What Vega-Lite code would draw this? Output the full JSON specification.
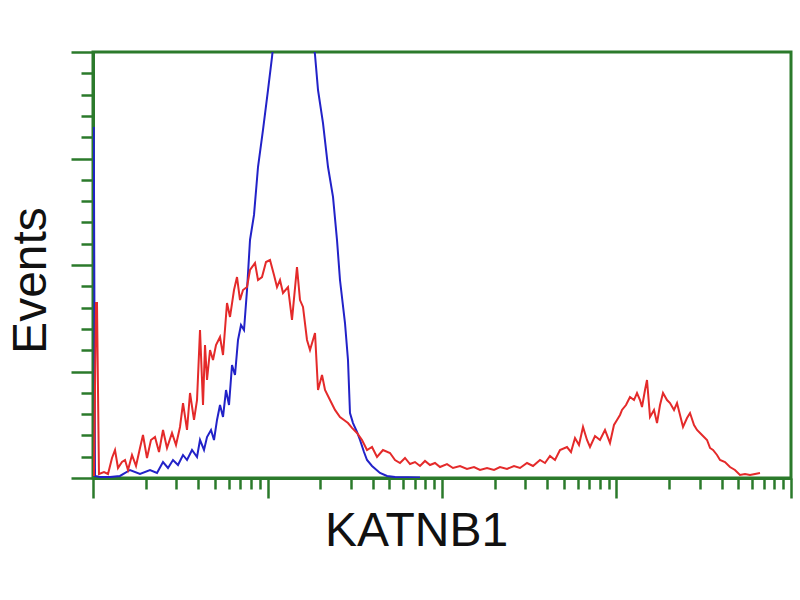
{
  "$schema": "https://vega.github.io/schema/vega-lite/v6.json",
  "width": 698,
  "height": 426,
  "autosize": {"type": "none"},
  "padding": {"left": 93, "top": 52, "right": 9, "bottom": 122},
  "background": "white",
  "config": {
    "view": {"stroke": "#2b7a2b", "strokeWidth": 3},
    "axis": {"grid": false, "labels": false}
  },
  "datasets": {
    "blue": [
      {"intensity": 1, "events": 328.7},
      {"intensity": 1.0106, "events": 328.7},
      {"intensity": 1.0267, "events": 1.9},
      {"intensity": 1.0967, "events": 0.9},
      {"intensity": 1.2516, "events": 0.9},
      {"intensity": 1.4279, "events": 1.9},
      {"intensity": 1.6299, "events": 7.5},
      {"intensity": 1.859, "events": 3.8},
      {"intensity": 2.1213, "events": 7.5},
      {"intensity": 2.3268, "events": 4.7},
      {"intensity": 2.5185, "events": 15.0},
      {"intensity": 2.6903, "events": 9.4},
      {"intensity": 2.8735, "events": 16.9},
      {"intensity": 3.0698, "events": 12.2},
      {"intensity": 3.2796, "events": 21.6},
      {"intensity": 3.4574, "events": 16.9},
      {"intensity": 3.6932, "events": 26.3},
      {"intensity": 3.945, "events": 19.7},
      {"intensity": 4.1044, "events": 35.7},
      {"intensity": 4.3268, "events": 26.3},
      {"intensity": 4.5018, "events": 38.5},
      {"intensity": 4.7457, "events": 45.1},
      {"intensity": 4.9364, "events": 35.7},
      {"intensity": 5.1367, "events": 54.5},
      {"intensity": 5.3441, "events": 68.5},
      {"intensity": 5.5598, "events": 57.3},
      {"intensity": 5.7842, "events": 82.6},
      {"intensity": 6.0176, "events": 68.5},
      {"intensity": 6.2605, "events": 106.1},
      {"intensity": 6.5128, "events": 96.7},
      {"intensity": 6.7767, "events": 129.6},
      {"intensity": 7.05, "events": 143.7},
      {"intensity": 7.3348, "events": 139.0},
      {"intensity": 7.6311, "events": 176.5},
      {"intensity": 7.9392, "events": 223.5},
      {"intensity": 8.3693, "events": 247.0},
      {"intensity": 8.8226, "events": 292.0},
      {"intensity": 9.4232, "events": 326.8},
      {"intensity": 10.066, "events": 364.3},
      {"intensity": 10.612, "events": 395.3},
      {"intensity": 11.187, "events": 430},
      {"intensity": 14.0, "events": 542.7},
      {"intensity": 17.756, "events": 430},
      {"intensity": 18.72, "events": 397.2},
      {"intensity": 19.476, "events": 364.3},
      {"intensity": 20.8, "events": 333.3},
      {"intensity": 22.224, "events": 292.0},
      {"intensity": 23.735, "events": 263.9},
      {"intensity": 25.02, "events": 223.5},
      {"intensity": 26.026, "events": 185.9},
      {"intensity": 27.8, "events": 145.5},
      {"intensity": 28.924, "events": 110.8},
      {"intensity": 29.697, "events": 61.0},
      {"intensity": 30.904, "events": 51.6},
      {"intensity": 32.578, "events": 43.2},
      {"intensity": 33.895, "events": 35.7},
      {"intensity": 35.725, "events": 24.4},
      {"intensity": 37.176, "events": 16.9},
      {"intensity": 39.711, "events": 11.3},
      {"intensity": 44.12, "events": 4.7},
      {"intensity": 48.4, "events": 1.9},
      {"intensity": 53.788, "events": 0.9},
      {"intensity": 74.811, "events": 0.5}
    ],
    "red": [
      {"intensity": 1.013, "events": 1.9},
      {"intensity": 1.04, "events": 164.3},
      {"intensity": 1.054, "events": 164.3},
      {"intensity": 1.082, "events": 3.8},
      {"intensity": 1.156, "events": 5.6},
      {"intensity": 1.219, "events": 3.8},
      {"intensity": 1.285, "events": 18.8},
      {"intensity": 1.337, "events": 26.3},
      {"intensity": 1.391, "events": 9.4},
      {"intensity": 1.466, "events": 15.0},
      {"intensity": 1.526, "events": 16.9},
      {"intensity": 1.587, "events": 7.5},
      {"intensity": 1.673, "events": 21.6},
      {"intensity": 1.764, "events": 11.3},
      {"intensity": 1.859, "events": 28.2},
      {"intensity": 1.934, "events": 40.4},
      {"intensity": 2.039, "events": 18.8},
      {"intensity": 2.149, "events": 35.7},
      {"intensity": 2.266, "events": 38.5},
      {"intensity": 2.389, "events": 24.4},
      {"intensity": 2.519, "events": 45.1},
      {"intensity": 2.655, "events": 28.2},
      {"intensity": 2.836, "events": 42.3},
      {"intensity": 2.99, "events": 31.0},
      {"intensity": 3.152, "events": 47.9},
      {"intensity": 3.28, "events": 70.4},
      {"intensity": 3.457, "events": 45.1},
      {"intensity": 3.597, "events": 79.8},
      {"intensity": 3.792, "events": 54.5},
      {"intensity": 3.945, "events": 73.2},
      {"intensity": 4.104, "events": 139.0},
      {"intensity": 4.27, "events": 68.5},
      {"intensity": 4.384, "events": 124.9},
      {"intensity": 4.502, "events": 92.0},
      {"intensity": 4.684, "events": 120.2},
      {"intensity": 4.873, "events": 110.8},
      {"intensity": 5.069, "events": 124.9},
      {"intensity": 5.344, "events": 132.4},
      {"intensity": 5.56, "events": 115.5},
      {"intensity": 5.861, "events": 164.3},
      {"intensity": 6.098, "events": 151.2},
      {"intensity": 6.428, "events": 176.5},
      {"intensity": 6.688, "events": 188.7},
      {"intensity": 6.958, "events": 167.1},
      {"intensity": 7.239, "events": 176.5},
      {"intensity": 7.631, "events": 179.3},
      {"intensity": 7.939, "events": 195.3},
      {"intensity": 8.48, "events": 201.9},
      {"intensity": 8.823, "events": 185.9},
      {"intensity": 9.3, "events": 188.7},
      {"intensity": 9.804, "events": 202.8},
      {"intensity": 10.335, "events": 204.7},
      {"intensity": 10.896, "events": 190.6},
      {"intensity": 11.336, "events": 179.3},
      {"intensity": 11.793, "events": 185.9},
      {"intensity": 12.27, "events": 173.7},
      {"intensity": 13.106, "events": 179.3},
      {"intensity": 13.816, "events": 148.4},
      {"intensity": 14.757, "events": 198.1},
      {"intensity": 15.355, "events": 167.1},
      {"intensity": 15.976, "events": 160.6},
      {"intensity": 16.842, "events": 129.6},
      {"intensity": 17.523, "events": 120.2},
      {"intensity": 18.72, "events": 136.2},
      {"intensity": 19.476, "events": 82.6},
      {"intensity": 20.531, "events": 96.7},
      {"intensity": 21.361, "events": 82.6},
      {"intensity": 22.815, "events": 73.2},
      {"intensity": 24.368, "events": 63.9},
      {"intensity": 26.026, "events": 57.3},
      {"intensity": 27.437, "events": 54.5},
      {"intensity": 28.924, "events": 51.6},
      {"intensity": 30.492, "events": 47.0},
      {"intensity": 32.578, "events": 42.3},
      {"intensity": 34.8, "events": 35.7},
      {"intensity": 37.176, "events": 26.3},
      {"intensity": 39.711, "events": 29.1},
      {"intensity": 42.423, "events": 19.7},
      {"intensity": 45.903, "events": 26.3},
      {"intensity": 50.356, "events": 23.5},
      {"intensity": 53.788, "events": 16.9},
      {"intensity": 57.454, "events": 14.1},
      {"intensity": 61.376, "events": 18.8},
      {"intensity": 65.561, "events": 13.1},
      {"intensity": 70.03, "events": 15.0},
      {"intensity": 74.811, "events": 11.3},
      {"intensity": 79.91, "events": 16.0},
      {"intensity": 85.358, "events": 12.2},
      {"intensity": 91.186, "events": 14.1},
      {"intensity": 97.402, "events": 10.3},
      {"intensity": 106.82, "events": 13.1},
      {"intensity": 115.62, "events": 9.4},
      {"intensity": 126.81, "events": 11.3},
      {"intensity": 139.06, "events": 8.5},
      {"intensity": 152.55, "events": 10.3},
      {"intensity": 165.12, "events": 7.5},
      {"intensity": 181.1, "events": 9.4},
      {"intensity": 198.66, "events": 7.5},
      {"intensity": 214.94, "events": 10.3},
      {"intensity": 235.82, "events": 8.5},
      {"intensity": 258.58, "events": 11.3},
      {"intensity": 279.89, "events": 9.4},
      {"intensity": 307.03, "events": 14.1},
      {"intensity": 332.32, "events": 11.3},
      {"intensity": 364.47, "events": 16.9},
      {"intensity": 389.33, "events": 14.1},
      {"intensity": 415.71, "events": 20.7},
      {"intensity": 444.1, "events": 16.9},
      {"intensity": 474.5, "events": 26.3},
      {"intensity": 520.38, "events": 29.1},
      {"intensity": 548.58, "events": 24.4},
      {"intensity": 578.29, "events": 37.6},
      {"intensity": 609.6, "events": 31.0},
      {"intensity": 642.82, "events": 47.9},
      {"intensity": 677.63, "events": 35.7},
      {"intensity": 705.01, "events": 29.1},
      {"intensity": 753.1, "events": 39.4},
      {"intensity": 804.2, "events": 35.7},
      {"intensity": 859.1, "events": 45.1},
      {"intensity": 917.6, "events": 32.9},
      {"intensity": 967.3, "events": 49.8},
      {"intensity": 1006.6, "events": 54.5},
      {"intensity": 1047.3, "events": 59.2},
      {"intensity": 1075.3, "events": 63.9},
      {"intensity": 1133.6, "events": 68.5},
      {"intensity": 1195.0, "events": 76.1},
      {"intensity": 1259.8, "events": 73.2},
      {"intensity": 1310.7, "events": 79.8},
      {"intensity": 1363.6, "events": 73.2},
      {"intensity": 1400.1, "events": 66.7},
      {"intensity": 1456.7, "events": 82.6},
      {"intensity": 1495.7, "events": 92.0},
      {"intensity": 1556.1, "events": 57.3},
      {"intensity": 1640.5, "events": 63.9},
      {"intensity": 1706.7, "events": 51.6},
      {"intensity": 1775.6, "events": 68.5},
      {"intensity": 1847.4, "events": 79.8},
      {"intensity": 1947.5, "events": 73.2},
      {"intensity": 2026.2, "events": 70.4},
      {"intensity": 2136.1, "events": 63.9},
      {"intensity": 2222.4, "events": 70.4},
      {"intensity": 2312.2, "events": 59.2},
      {"intensity": 2405.6, "events": 47.9},
      {"intensity": 2535.8, "events": 56.3},
      {"intensity": 2638.2, "events": 61.0},
      {"intensity": 2781.1, "events": 49.8},
      {"intensity": 2893.4, "events": 45.1},
      {"intensity": 3090.8, "events": 40.4},
      {"intensity": 3301.5, "events": 35.7},
      {"intensity": 3434.8, "events": 28.2},
      {"intensity": 3573.5, "events": 26.3},
      {"intensity": 3767.2, "events": 21.6},
      {"intensity": 3919.3, "events": 16.9},
      {"intensity": 4185.3, "events": 15.0},
      {"intensity": 4470, "events": 10.3},
      {"intensity": 4775, "events": 7.5},
      {"intensity": 5100, "events": 2.8},
      {"intensity": 5450, "events": 3.8},
      {"intensity": 5821, "events": 2.8},
      {"intensity": 6218, "events": 3.8},
      {"intensity": 6643, "events": 4.7}
    ]
  },
  "encoding": {
    "x": {
      "field": "intensity",
      "type": "quantitative",
      "scale": {"type": "log", "domain": [1, 10000], "nice": false},
      "axis": {
        "title": "KATNB1",
        "values": [1, 2, 3, 4, 5, 6, 7, 8, 9, 10, 20, 30, 40, 50, 60, 70, 80, 90, 100, 200, 300, 400, 500, 600, 700, 800, 900, 1000, 2000, 3000, 4000, 5000, 6000, 7000, 8000, 9000, 10000],
        "labels": false,
        "grid": false,
        "domainColor": "#2b7a2b",
        "domainWidth": 3,
        "tickColor": "#2b7a2b",
        "tickWidth": 2.5,
        "tickSize": {"condition": {"test": "indexof([1, 10, 100, 1000, 10000], datum.value) >= 0", "value": 20}, "value": 11},
        "titleFont": "Liberation Sans",
        "titleFontSize": 48,
        "titleFontWeight": "normal",
        "titleColor": "#111111",
        "titleX": 323,
        "titleY": 67,
        "titleBaseline": "alphabetic"
      }
    },
    "y": {
      "field": "events",
      "type": "quantitative",
      "scale": {"domain": [0, 400], "nice": false},
      "axis": {
        "title": "Events",
        "values": [0, 20, 40, 60, 80, 100, 120, 140, 160, 180, 200, 220, 240, 260, 280, 300, 320, 340, 360, 380, 400],
        "labels": false,
        "grid": false,
        "domainColor": "#2b7a2b",
        "domainWidth": 3,
        "tickColor": "#2b7a2b",
        "tickWidth": 2.5,
        "tickSize": {"condition": {"test": "datum.value % 100 == 0", "value": 22}, "value": 12},
        "titleFont": "Liberation Sans",
        "titleFontSize": 48,
        "titleFontWeight": "normal",
        "titleColor": "#111111",
        "titleAngle": -90,
        "titleX": -48,
        "titleY": 228,
        "titleBaseline": "alphabetic"
      }
    }
  },
  "layer": [
    {
      "data": {"name": "blue"},
      "mark": {"type": "line", "clip": true, "color": "#2222c8", "strokeWidth": 2}
    },
    {
      "data": {"name": "red"},
      "mark": {"type": "line", "clip": true, "color": "#e42a2a", "strokeWidth": 2}
    }
  ]
}
